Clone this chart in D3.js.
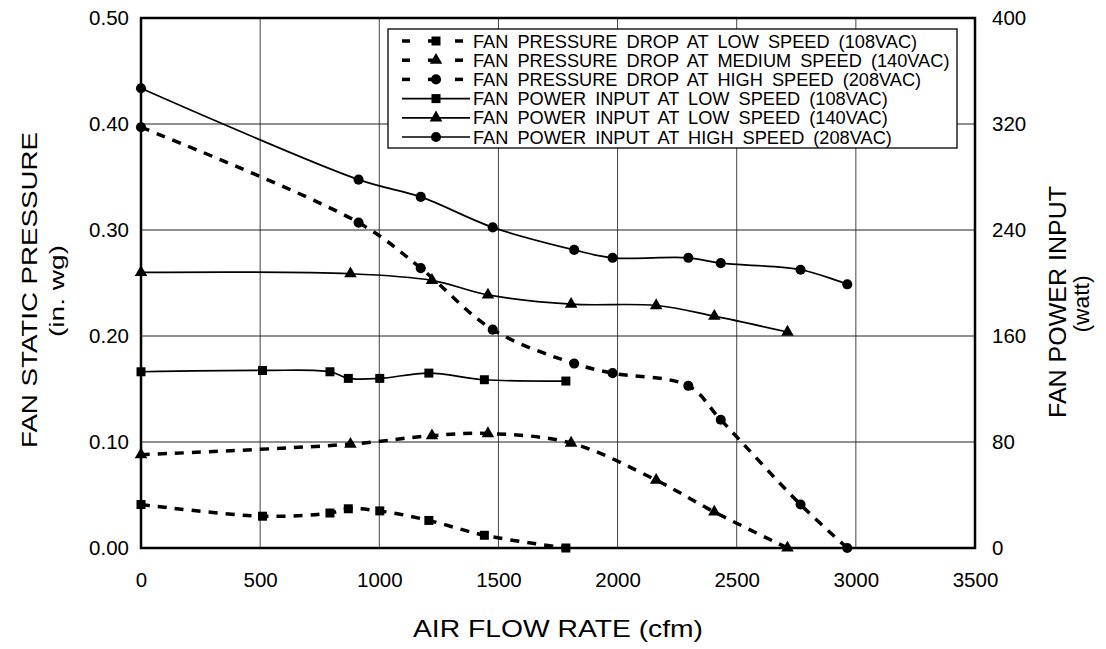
<!DOCTYPE html>
<meta charset="utf-8">
<script src="https://d3js.org/d3.v7.min.js"></script>
<style>
  body { margin: 0; background: #fff; }
  text { font-family: "Liberation Sans", Arial, sans-serif; fill: #000; }
</style>
<div id="chart"></div>
<script>
    // air flow (cfm) for each speed
    const flowLow = [0, 510, 793, 870, 1002, 1208, 1441, 1783];
    const flowMed = [0, 879, 1221, 1456, 1805, 2162, 2406, 2713];
    const flowHigh = [0, 913, 1174, 1476, 1818, 1979, 2297, 2433, 2768, 2964];

    // fan static pressure (in. wg)
    const pressLow = [0.041, 0.030, 0.033, 0.037, 0.035, 0.026, 0.012, 0.000];
    const pressMed = [0.088, 0.098, 0.106, 0.108, 0.099, 0.064, 0.034, 0.000];
    const pressHigh = [0.397, 0.307, 0.264, 0.206, 0.174, 0.165, 0.153, 0.121, 0.041, 0.000];

    // fan power input (watt)
    const powerLow = [133, 134, 133, 128, 128, 132, 127, 126];
    const powerMed = [208, 207, 202, 191, 184, 183, 175, 163];
    const powerHigh = [347, 278, 265, 242, 225, 219, 219, 215, 210, 199];

    const xTicks = [0, 500, 1000, 1500, 2000, 2500, 3000, 3500];
    const yTicks = [0, 0.1, 0.2, 0.3, 0.4, 0.5];
    const y2Ticks = [0, 80, 160, 240, 320, 400];

    const legendLabels = [
        "FAN PRESSURE DROP AT LOW SPEED (108VAC)",
        "FAN PRESSURE DROP AT MEDIUM SPEED (140VAC)",
        "FAN PRESSURE DROP AT HIGH SPEED (208VAC)",
        "FAN POWER INPUT AT LOW SPEED (108VAC)",
        "FAN POWER INPUT AT LOW SPEED (140VAC)",
        "FAN POWER INPUT AT HIGH SPEED (208VAC)"
    ];

    const W = 1106, H = 649;
    const pLeft = 141, pRight = 975, pTop = 18, pBottom = 548;

    const svg = d3.select("#chart").append("svg")
        .attr("width", W)
        .attr("height", H);

    const x = d3.scaleLinear().domain([0, 3500]).range([pLeft, pRight]);
    const y = d3.scaleLinear().domain([0, 0.5]).range([pBottom, pTop]);
    const y2 = d3.scaleLinear().domain([0, 400]).range([pBottom, pTop]);

    // grid
    svg.append("g")
        .selectAll("line")
        .data(xTicks.slice(1, -1))
        .join("line")
        .attr("x1", d => x(d)).attr("x2", d => x(d))
        .attr("y1", pTop).attr("y2", pBottom)
        .attr("stroke", "#444").attr("stroke-width", 1);
    svg.append("g")
        .selectAll("line")
        .data(yTicks.slice(1, -1))
        .join("line")
        .attr("x1", pLeft).attr("x2", pRight)
        .attr("y1", d => y(d)).attr("y2", d => y(d))
        .attr("stroke", "#222").attr("stroke-width", 1);

    // axes (labels only, frame drawn separately)
    const xAxis = svg.append("g")
        .attr("transform", `translate(0,${pBottom})`)
        .call(d3.axisBottom(x).tickValues(xTicks).tickSize(0).tickPadding(24).tickFormat(d3.format("d")));
    const yAxis = svg.append("g")
        .attr("transform", `translate(${pLeft},0)`)
        .call(d3.axisLeft(y).tickValues(yTicks).tickSize(0).tickPadding(12).tickFormat(d3.format(".2f")));
    const y2Axis = svg.append("g")
        .attr("transform", `translate(${pRight},0)`)
        .call(d3.axisRight(y2).tickValues(y2Ticks).tickSize(0).tickPadding(17).tickFormat(d3.format("d")));
    [xAxis, yAxis, y2Axis].forEach(g => {
        g.select(".domain").remove();
        g.selectAll("text").attr("font-size", 20.5).attr("font-family", "Liberation Sans, Arial, sans-serif");
    });

    // series
    const series = [
        { flow: flowLow, vals: pressLow, scale: y, dashed: true, shape: d3.symbolSquare },
        { flow: flowMed, vals: pressMed, scale: y, dashed: true, shape: d3.symbolTriangle },
        { flow: flowHigh, vals: pressHigh, scale: y, dashed: true, shape: d3.symbolCircle },
        { flow: flowLow, vals: powerLow, scale: y2, dashed: false, shape: d3.symbolSquare },
        { flow: flowMed, vals: powerMed, scale: y2, dashed: false, shape: d3.symbolTriangle },
        { flow: flowHigh, vals: powerHigh, scale: y2, dashed: false, shape: d3.symbolCircle }
    ];
    const symSize = s => s === d3.symbolSquare ? 81 : s === d3.symbolTriangle ? 68 : 80;

    series.forEach(s => {
        const pts = d3.zip(s.flow, s.vals);
        const line = d3.line()
            .x(d => x(d[0]))
            .y(d => s.scale(d[1]))
            .curve(d3.curveCatmullRom.alpha(0.5));
        svg.append("path")
            .datum(pts)
            .attr("d", line)
            .attr("fill", "none")
            .attr("stroke", "#000")
            .attr("stroke-width", s.dashed ? 3.5 : 1.7)
            .attr("stroke-dasharray", s.dashed ? "9,8" : null);
        svg.append("g")
            .selectAll("path")
            .data(pts)
            .join("path")
            .attr("transform", d => `translate(${x(d[0])},${s.scale(d[1])})`)
            .attr("d", d3.symbol().type(s.shape).size(symSize(s.shape)))
            .attr("fill", "#000");
    });

    // frame
    svg.append("rect")
        .attr("x", pLeft).attr("y", pTop)
        .attr("width", pRight - pLeft).attr("height", pBottom - pTop)
        .attr("fill", "none").attr("stroke", "#000").attr("stroke-width", 2.5);

    // legend
    const lg = svg.append("g");
    lg.append("rect")
        .attr("x", 388).attr("y", 29).attr("width", 569).attr("height", 119)
        .attr("fill", "#fff").attr("stroke", "#000").attr("stroke-width", 1.3);
    legendLabels.forEach((label, i) => {
        const s = series[i];
        const cy = 41 + i * 19.2;
        if (s.dashed) {
            [[402, 410], [428, 436], [455, 463]].forEach(([a, b]) => {
                lg.append("line").attr("x1", a).attr("x2", b).attr("y1", cy).attr("y2", cy)
                    .attr("stroke", "#000").attr("stroke-width", 3.5);
            });
        } else {
            lg.append("line").attr("x1", 402).attr("x2", 470).attr("y1", cy).attr("y2", cy)
                .attr("stroke", "#000").attr("stroke-width", 1.7);
        }
        lg.append("path")
            .attr("transform", `translate(436,${cy})`)
            .attr("d", d3.symbol().type(s.shape).size(symSize(s.shape)))
            .attr("fill", "#000");
        lg.append("text")
            .attr("x", 473).attr("y", cy + 6.5)
            .attr("font-size", 18.2)
            .style("word-spacing", "4px")
            .text(label);
    });

    // axis titles
    const title = (label, tx, ty, rot, size, len) => svg.append("text")
        .attr("transform", `translate(${tx},${ty}) rotate(${rot})`)
        .attr("text-anchor", "middle")
        .attr("font-size", size)
        .attr("textLength", len)
        .attr("lengthAdjust", "spacingAndGlyphs")
        .text(label);
    title("FAN STATIC PRESSURE", 37, 290, -90, 22, 316);
    title("(in. wg)", 64, 291, -90, 21, 92);
    title("FAN POWER INPUT", 1066, 302, -90, 23, 232);
    title("(watt)", 1089, 304, -90, 22, 57);
    title("AIR FLOW RATE (cfm)", 558, 637, 0, 24.5, 290);
</script>
